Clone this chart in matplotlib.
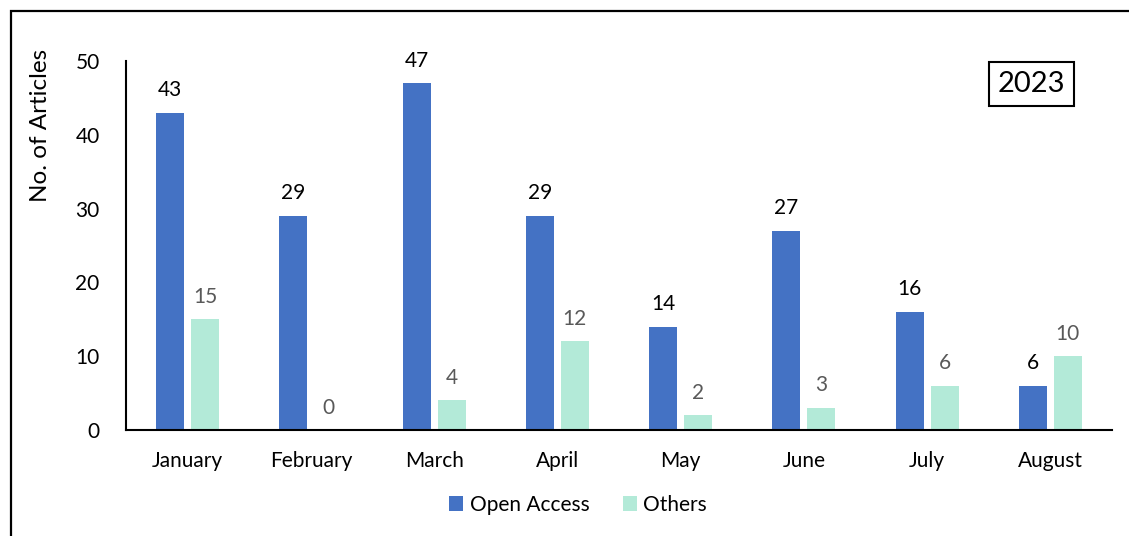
import matplotlib.pyplot as plt
import numpy as np
from matplotlib.patches import Rectangle

months = ["January", "February", "March", "April", "May", "June", "July", "August"]
open_access = [43, 29, 47, 29, 14, 27, 16, 6]
others = [15, 0, 4, 12, 2, 3, 6, 10]

plt.rcParams['font.family'] = ['Lato', 'DejaVu Sans']

fig = plt.figure(figsize=(11.29, 5.36), dpi=100)
ax = fig.add_axes([126/1129, 1 - 430/536, (1112-126)/1129, (430-61)/536])

x = np.arange(len(months))
w = 0.227
off = 0.142
b1 = ax.bar(x - off, open_access, w, color="#4472C4", label="Open Access")
b2 = ax.bar(x + off, others, w, color="#B3EAD8", label="Others")

for xi, v in zip(x, open_access):
    ax.annotate(str(v), (xi - off, v), xytext=(0, 9), textcoords="offset points",
                ha="center", va="bottom", fontsize=15, color="black")
for xi, v in zip(x, others):
    ax.annotate(str(v), (xi + off, v), xytext=(0, 9), textcoords="offset points",
                ha="center", va="bottom", fontsize=15, color="#595959")

ax.set_xlim(-0.5, len(months) - 0.5)
ax.set_ylim(0, 50)
ax.set_yticks([0, 10, 20, 30, 40, 50])
ax.set_xticks(x)
ax.set_xticklabels(months)
ax.tick_params(axis="both", length=0, labelsize=15)
ax.tick_params(axis="y", pad=19)
ax.tick_params(axis="x", pad=15)
ax.spines["top"].set_visible(False)
ax.spines["right"].set_visible(False)
ax.spines["left"].set_linewidth(1.5)
ax.spines["bottom"].set_linewidth(1.5)
ax.set_ylabel("No. of Articles", fontsize=17.5, va="center")
ax.yaxis.set_label_coords(-0.087, 0.826)

ax.text(1031/1129, 1 - 84/536, "2023", transform=fig.transFigure, ha="center", va="center",
        fontsize=21, bbox=dict(boxstyle="square,pad=0.3", fc="white", ec="black", lw=1.5))

fig.legend(handles=[b1, b2], loc="center", bbox_to_anchor=(578/1129, 1 - 505/536),
           ncol=2, frameon=False, fontsize=15, handlelength=0.7, handleheight=0.7,
           handletextpad=0.3, columnspacing=1.6)

# outer frame, cut off on the right and bottom
fig.add_artist(Rectangle((11/1129, -0.1), 1.2, 1 - 11/536 + 0.1, transform=fig.transFigure,
                         fill=False, ec="black", lw=1.6))

fig.savefig("out.png", dpi=100)
